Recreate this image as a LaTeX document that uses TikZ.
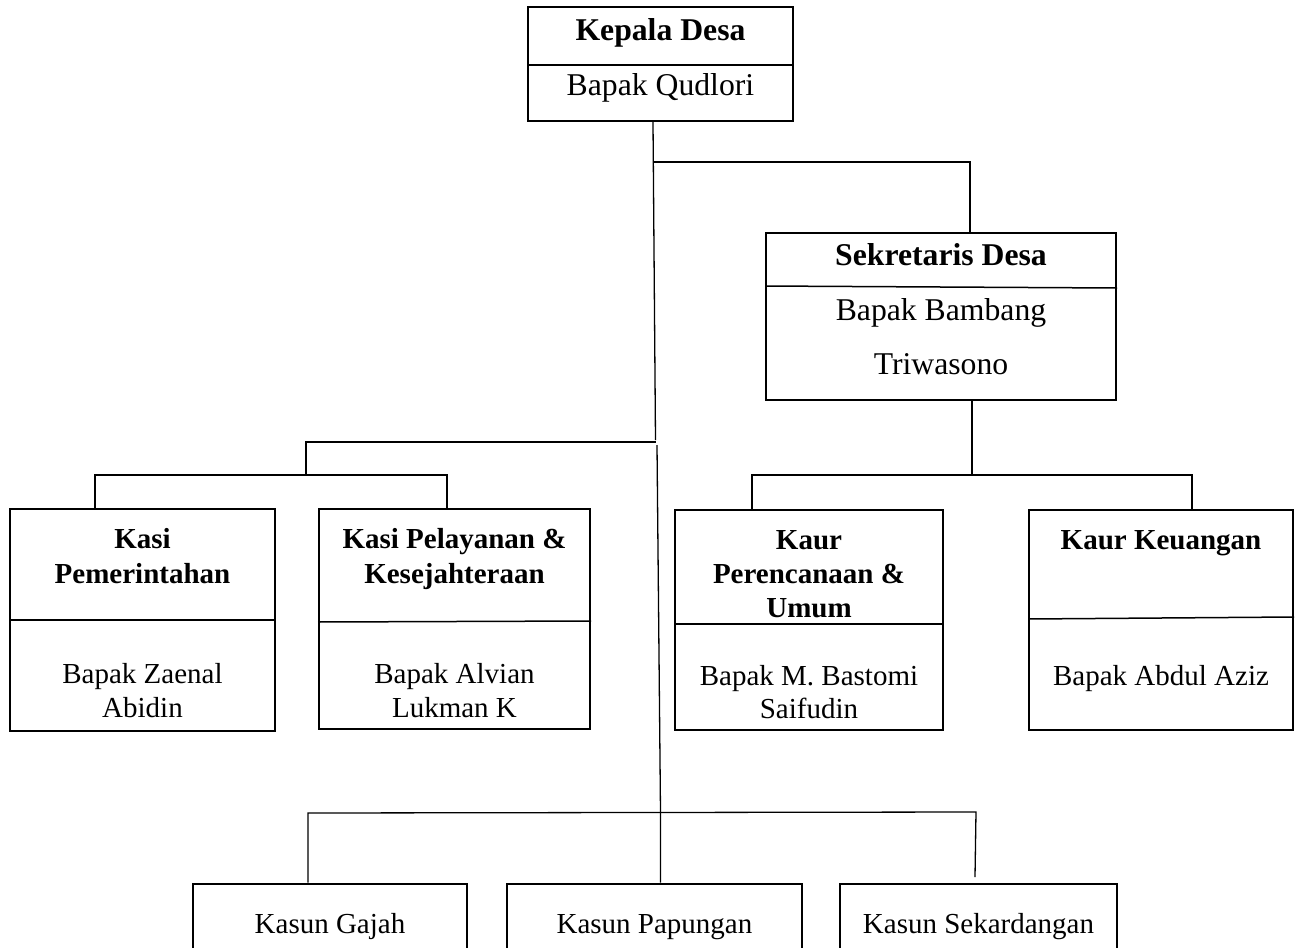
\documentclass[tikz,border=0pt]{standalone}
\usepackage{fontspec}
\setmainfont{Liberation Serif}
\usetikzlibrary{fit}
\begin{document}
\begin{tikzpicture}[x=0.5pt,y=-0.5pt,
  boxst/.style={draw, line width=1pt, inner sep=0pt},
  kbox/.style={draw, line width=1.3pt, inner sep=0pt},
  divl/.style={line width=0.75pt},
  conn/.style={line width=0.65pt},
  big/.style={font=\fontsize{15.85}{19}\selectfont, anchor=base, inner sep=0pt},
  bigb/.style={font=\fontsize{15.85}{19}\selectfont\bfseries, anchor=base, inner sep=0pt},
  sm/.style={font=\fontsize{14.5}{17.5}\selectfont, anchor=base, inner sep=0pt},
  smb/.style={font=\fontsize{14.5}{17.5}\selectfont\bfseries, anchor=base, inner sep=0pt}]
\clip (0,0) rectangle (1297,948);
\fill[white] (0,0) rectangle (1297,948);

% Kepala Desa
\node[boxst, fit={(528,7)(793,121)}] (kd) {};
\draw[divl] (kd.west |- 0,65) -- (kd.east |- 0,65);
\node[bigb] (kdt) at (660.5,40) {Kepala Desa};
\node[big] (kdn) at (660.5,95) {Bapak Qudlori};

% Sekretaris Desa
\node[boxst, fit={(766,233)(1116,400)}] (sek) {};
\draw[divl] (sek.west |- 0,286) -- (sek.east |- 0,288);
\node[bigb] (sekt) at (941,265) {Sekretaris Desa};
\node[big] (sekn1) at (941,320) {Bapak Bambang};
\node[big] (sekn2) at (941,374) {Triwasono};

% Kasi Pemerintahan
\node[boxst, fit={(10,509)(275,731)}] (k1) {};
\draw[divl] (k1.west |- 0,620) -- (k1.east |- 0,620);
\node[smb] (k1t1) at (142.5,548) {Kasi};
\node[smb] (k1t2) at (142.5,583) {Pemerintahan};
\node[sm] (k1n1) at (142.5,683) {Bapak Zaenal};
\node[sm] (k1n2) at (142.5,717) {Abidin};

% Kasi Pelayanan
\node[boxst, fit={(319,509)(590,729)}] (k2) {};
\draw[divl] (k2.west |- 0,622) -- (k2.east |- 0,621);
\node[smb] (k2t1) at (454.5,548) {Kasi Pelayanan \&};
\node[smb] (k2t2) at (454.5,583) {Kesejahteraan};
\node[sm] (k2n1) at (454.5,683) {Bapak Alvian};
\node[sm] (k2n2) at (454.5,717) {Lukman K};

% Kaur Perencanaan
\node[boxst, fit={(675,510)(943,730)}] (kp) {};
\draw[divl] (kp.west |- 0,624) -- (kp.east |- 0,624);
\node[smb] (kpt1) at (809,549) {Kaur};
\node[smb] (kpt2) at (809,583) {Perencanaan \&};
\node[smb] (kpt3) at (809,617) {Umum};
\node[sm] (kpn1) at (809,685) {Bapak M. Bastomi};
\node[sm] (kpn2) at (809,718) {Saifudin};

% Kaur Keuangan
\node[boxst, fit={(1029,510)(1293,730)}] (kk) {};
\draw[divl] (kk.west |- 0,619) -- (kk.east |- 0,617);
\node[smb] (kkt) at (1161,549) {Kaur Keuangan};
\node[sm] (kkn) at (1161,685) {Bapak Abdul Aziz};

% Kasun
\node[kbox, fit={(193,884)(467,990)}] (ks1) {};
\node[kbox, fit={(507,884)(802,990)}] (ks2) {};
\node[kbox, fit={(840,884)(1117,990)}] (ks3) {};
\node[sm] (ks1t) at (330,933) {Kasun Gajah};
\node[sm] (ks2t) at (654.5,933) {Kasun Papungan};
\node[sm] (ks3t) at (978.5,933) {Kasun Sekardangan};

% connectors
\coordinate (a1) at (653,162);
\coordinate (a2) at (655.5,440);
\coordinate (a3) at (306,442);
\coordinate (b1) at (970,162);
\draw[conn] (kd.south -| a1) -- (a2);
\draw[conn] (a1) -- (b1) -- (b1 |- sek.north);
\draw[conn] (a3 -| a2) -- (a3) -- (306,475);

\coordinate (c1) at (95,475);
\coordinate (c2) at (447,475);
\draw[conn] (c1 |- k1.north) -- (c1) -- (c2) -- (c2 |- k2.north);

\coordinate (f0) at (972,475);
\coordinate (f1) at (752,475);
\coordinate (f2) at (1192,475);
\draw[conn] (sek.south -| f0) -- (f0);
\draw[conn] (f1 |- kp.north) -- (f1) -- (f2) -- (f2 |- kk.north);

\coordinate (d0) at (657,445);
\coordinate (d1) at (660.5,812);
\draw[conn] (d0) -- (d1) -- (d1 |- ks2.north);
\coordinate (e1) at (308,813);
\coordinate (e2) at (976,812);
\coordinate (e3) at (975,877);
\draw[conn] (e1 |- ks1.north) -- (e1) -- (e2) -- (e3);
\end{tikzpicture}
\end{document}
